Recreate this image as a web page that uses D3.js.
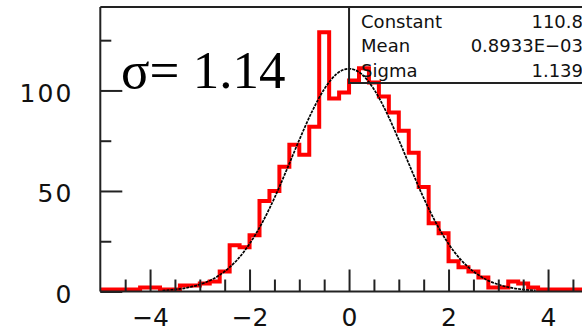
<!DOCTYPE html>
<html>
<head>
<meta charset="utf-8">
<script src="https://cdn.jsdelivr.net/npm/d3@7"></script>
<style>
  html, body { margin: 0; padding: 0; background: #fff; }
  #chart { width: 582px; height: 332px; overflow: hidden; }
</style>
</head>
<body>
<div id="chart"></div>
<script>
// Histogram bins (start, width) and counts
const binStart = -5;
const binWidth = 0.2;
const binCounts = [
  1, 1, 1, 1, 2, 2, 1, 1, 3, 3,
  4, 5, 10, 23, 22, 28, 45, 50, 62, 73,
  68, 82, 129, 96, 99, 105, 111, 104, 97, 89,
  80, 69, 52, 34, 29, 15, 12, 10, 7, 2,
  2, 5, 4, 2, 1, 1, 1, 1, 1, 1
];

// Fitted curve
const curveX = [
  -3.75, -3.5, -3.25, -3, -2.75, -2.5, -2.25, -2, -1.75, -1.5, -1.25, -1, -0.75, -0.5, -0.25,
  0, 0.25, 0.5, 0.75, 1, 1.25, 1.5, 1.75, 2, 2.25, 2.5, 2.75, 3, 3.25, 3.5, 3.75
];
const curveY = [
  0.5, 1.0, 1.9, 3.5, 6.0, 10.0, 15.7, 23.7, 34.0, 46.5, 60.7, 75.4, 89.2, 100.6, 108.2,
  110.8, 108.2, 100.6, 89.2, 75.4, 60.7, 46.5, 34.0, 23.7, 15.7, 10.0, 6.0, 3.5, 1.9, 1.0, 0.5
];

// Stats box
const statNames = ["Constant", "Mean", "Sigma"];
const statValues = ["110.8", "0.8933E\u221203", "1.139"];

// Tick values
const xMajorTicks = [-4, -2, 0, 2, 4];
const xMinorTicks = [-4.5, -3.5, -3, -2.5, -1.5, -1, -0.5, 0.5, 1, 1.5, 2.5, 3, 3.5, 4.5];
const yMajorTicks = [0, 50, 100];
const yMinorTicks = [25, 75, 125];

function drawChart() {
  const width = 582;
  const height = 332;
  const AXIS_COLOUR = "#222";

  const svg = d3
    .select("#chart")
    .append("svg")
    .attr("width", width)
    .attr("height", height)
    .style("font-family", "'DejaVu Sans', sans-serif");

  // Scales
  const xScale = d3.scaleLinear().domain([-5, 5]).range([100.3, 597.8]);
  const yScale = d3.scaleLinear().domain([0, 141.5]).range([291.5, 7]);

  // Histogram outline
  const steps = binCounts.map((c, i) => ({ x: binStart + i * binWidth, y: c }));
  steps.push({ x: binStart + binCounts.length * binWidth, y: binCounts[binCounts.length - 1] });

  const stepLine = d3
    .line()
    .x((d) => xScale(d.x))
    .y((d) => yScale(d.y))
    .curve(d3.curveStepAfter);

  svg
    .append("path")
    .datum(steps)
    .attr("d", stepLine)
    .attr("fill", "none")
    .attr("stroke", "#ff0000")
    .attr("stroke-width", 4);

  // Fit curve
  const fitLine = d3
    .line()
    .x((d, i) => xScale(curveX[i]))
    .y((d) => yScale(d))
    .curve(d3.curveMonotoneX);

  svg
    .append("path")
    .datum(curveY)
    .attr("d", fitLine)
    .attr("fill", "none")
    .attr("stroke", "#000")
    .attr("stroke-width", 1.7)
    .attr("stroke-dasharray", "3,1");

  // Ticks (pointing into the plot)
  function tickGroup(axis, transform) {
    const g = svg.append("g").attr("class", "axis").attr("transform", transform).call(axis);
    g.select(".domain").remove();
    g.selectAll("line").attr("stroke", AXIS_COLOUR).attr("stroke-width", 2);
    return g;
  }

  tickGroup(d3.axisTop(xScale).tickValues(xMinorTicks).tickSize(12).tickFormat(""), `translate(0, ${yScale(0)})`);
  tickGroup(d3.axisTop(xScale).tickValues(xMajorTicks).tickSize(22).tickFormat(""), `translate(0, ${yScale(0)})`);
  tickGroup(d3.axisRight(yScale).tickValues(yMinorTicks).tickSize(11).tickFormat(""), `translate(${xScale(-5)}, 0)`);
  tickGroup(d3.axisRight(yScale).tickValues(yMajorTicks).tickSize(22).tickFormat(""), `translate(${xScale(-5)}, 0)`);

  // Tick labels
  const xLabels = svg
    .append("g")
    .attr("transform", `translate(0, ${yScale(0)})`)
    .call(d3.axisBottom(xScale).tickValues(xMajorTicks).tickSize(0).tickPadding(16.5).tickFormat(d3.format("d")));
  xLabels.select(".domain").remove();
  xLabels.selectAll("text")
    .style("font-family", "'DejaVu Sans', sans-serif")
    .style("font-size", "25px")
    .attr("fill", "#111");

  const yLabels = svg
    .append("g")
    .attr("transform", `translate(${xScale(-5)}, 0)`)
    .call(d3.axisLeft(yScale).tickValues(yMajorTicks).tickSize(0).tickPadding(27));
  yLabels.select(".domain").remove();
  yLabels.selectAll("text")
    .attr("dy", "0.43em")
    .style("font-family", "'DejaVu Sans', sans-serif")
    .style("font-size", "25px")
    .style("letter-spacing", "2px")
    .attr("fill", "#111");

  // Frame
  const x0 = xScale(-5);
  svg.append("line").attr("x1", x0).attr("x2", x0).attr("y1", yScale(141.5)).attr("y2", yScale(0))
    .attr("stroke", AXIS_COLOUR).attr("stroke-width", 2);
  svg.append("line").attr("x1", x0).attr("x2", width).attr("y1", yScale(0)).attr("y2", yScale(0))
    .attr("stroke", AXIS_COLOUR).attr("stroke-width", 2);
  svg.append("line").attr("x1", x0).attr("x2", width).attr("y1", yScale(141.5)).attr("y2", yScale(141.5))
    .attr("stroke", AXIS_COLOUR).attr("stroke-width", 2);

  // Stats box
  const boxLeft = xScale(0);
  const boxBottom = 83;
  svg.append("path")
    .attr("d", `M${boxLeft},${yScale(141.5)} V${boxBottom} H${width + 5}`)
    .attr("fill", "none")
    .attr("stroke", AXIS_COLOUR)
    .attr("stroke-width", 2);

  const statRows = svg.append("g")
    .selectAll("g")
    .data(statNames)
    .enter()
    .append("g")
    .attr("transform", (d, i) => `translate(0, ${27.5 + i * 24.5})`);

  statRows.append("text")
    .attr("x", boxLeft + 12)
    .style("font-size", "18px")
    .attr("fill", "#111")
    .text((d) => d);

  statRows.append("text")
    .attr("x", 583)
    .attr("text-anchor", "end")
    .style("font-size", "18px")
    .attr("fill", "#111")
    .text((d, i) => statValues[i]);

  // Sigma annotation
  svg.append("text")
    .attr("x", 121)
    .attr("y", 87.5)
    .style("font-family", "'Liberation Serif', 'Times New Roman', serif")
    .style("font-size", "53px")
    .attr("fill", "#000")
    .text("\u03c3= 1.14");
}

drawChart();
</script>
</body>
</html>
